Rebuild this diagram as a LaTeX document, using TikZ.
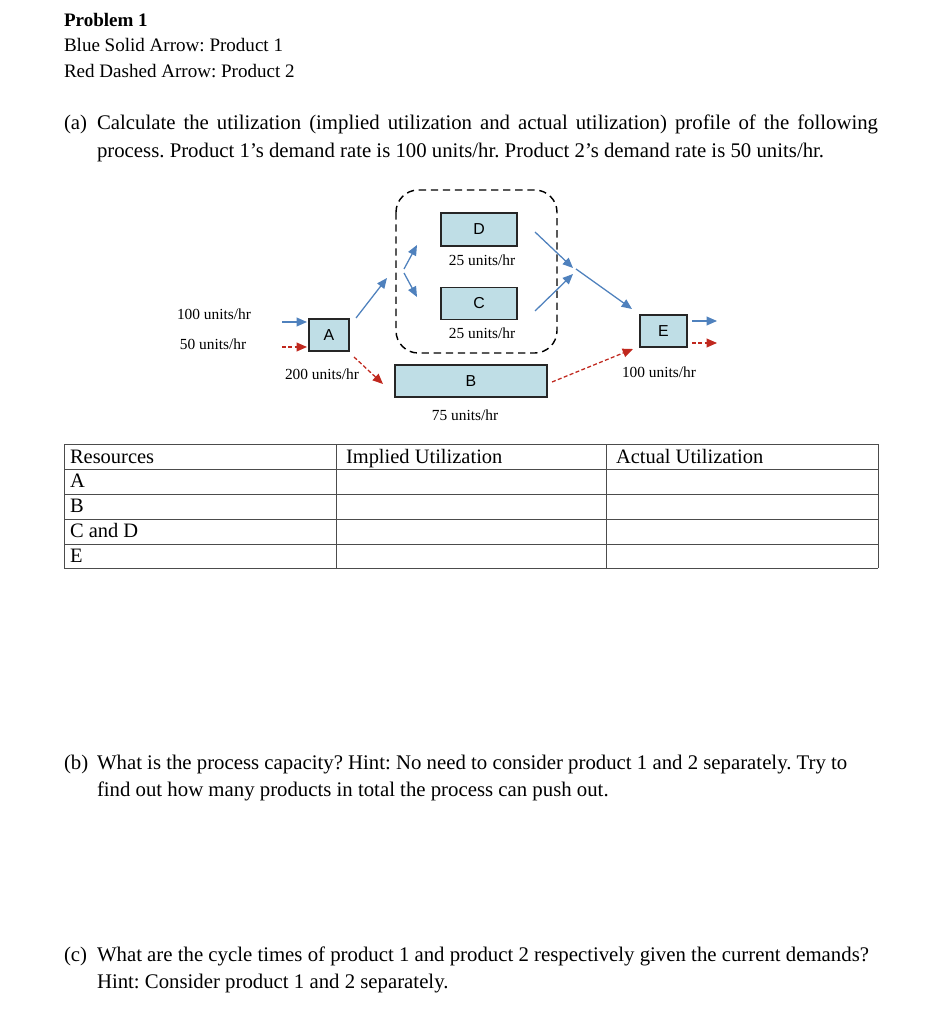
\documentclass[tikz,border=0pt]{standalone}
\usepackage{fontspec}
\setmainfont{Liberation Serif}
\setsansfont{Liberation Sans}
\usetikzlibrary{positioning,arrows.meta}

\definecolor{boxfill}{RGB}{191,222,230}
\definecolor{prodblue}{RGB}{79,129,189}
\definecolor{prodred}{RGB}{192,40,30}
\newcommand{\pxu}{0.63pt}
\frenchspacing

\begin{document}
\begin{tikzpicture}[
    x=0.63pt, y=-0.63pt,
    every node/.style={inner sep=0pt, outer sep=0pt},
    head/.style={anchor=base west, font=\fontsize{12}{14}\selectfont},
    body/.style={anchor=base west, font=\fontsize{13.1}{15}\selectfont},
    cell/.style={anchor=base west, font=\fontsize{12.9}{15}\selectfont},
    rate/.style={font=\fontsize{9.7}{11}\selectfont},
    station/.style={
        rectangle,
        draw=black!85,
        line width=1.1pt,
        fill=boxfill,
        minimum height=32*\pxu,
        font=\sffamily\fontsize{10}{12}\selectfont
    },
    prodone/.style={draw=prodblue, line width=0.8pt, -{Triangle[length=6.5pt,width=5.5pt]}},
    prodtwo/.style={draw=prodred, line width=0.8pt, dash pattern=on 2.5pt off 1.5pt, -{Triangle[length=6.5pt,width=5.5pt]}},
    group/.style={draw=black, line width=0.9pt, dash pattern=on 4.6pt off 3pt, rounded corners=14pt},
    tablerule/.style={draw=black!70, line width=0.6pt}
]
    \useasboundingbox (0,0) rectangle (936,1024);

    % --- HEADER ---
    \node [head, font=\bfseries\fontsize{12}{14}\selectfont] (title) at (64,27) {Problem 1};
    \node [head] (legendblue) at (64,52) {Blue Solid Arrow: Product 1};
    \node [head] (legendred) at (64,78) {Red Dashed Arrow: Product 2};

    % --- QUESTION (a) ---
    \node [body] (qa) at (64,130) {(a)};
    \node [body] (qaone) at (97,130) {\makebox[492pt][s]{Calculate the utilization (implied utilization and actual utilization) profile of the following}};
    \node [body] (qatwo) at (97,158) {process. Product 1’s demand rate is 100 units/hr. Product 2’s demand rate is 50 units/hr.};

    % --- STATIONS ---
    \draw [group] (396,190) rectangle (557,353);
    \node [station, minimum width=40*\pxu] (A) at (329,335) {A};
    \node [station, minimum width=76*\pxu, minimum height=33*\pxu] (D) at (479,229.5) {D};
    \node [station, minimum width=76*\pxu] (C) at (479,303.5) {C};
    \node [station, minimum width=152*\pxu] (B) at (471,381) {B};
    \node [station, minimum width=47*\pxu] (E) at (663.5,331) {E};

    % Rates
    \node [rate] (ratein1) at (214,314) {100 units/hr};
    \node [rate] (ratein2) at (213,344) {50 units/hr};
    \node [rate] (rateA) at (322,374) {200 units/hr};
    \node [rate] (rateD) at (482,260) {25 units/hr};
    \node [rate] (rateC) at (482,333) {25 units/hr};
    \node [rate] (rateB) at (465,415) {75 units/hr};
    \node [rate] (rateE) at (659,372) {100 units/hr};

    % --- ARROWS ---
    \coordinate (in1) at (282,322);
    \coordinate (in2) at (282,347);
    \coordinate (out1) at (717,321);
    \coordinate (out2) at (717,343);
    \coordinate (fork) at (404,271);
    \coordinate (merge) at (575,271);

    % Inputs -> A
    \draw [prodone, shorten >=2*\pxu] (in1) -- (in1 -| A.west);
    \draw [prodtwo, shorten >=2*\pxu] (in2) -- (in2 -| A.west);

    % Product 1 through C and D
    \draw [prodone] ([shift={(7,-1)}]A.north east) -- ([shift={(-17,7)}]fork);
    \draw [prodone] ([shift={(0,-2)}]fork) -- ([shift={(-24,15.5)}]D.west);
    \draw [prodone] ([shift={(0,2)}]fork) -- ([shift={(-24,-6.5)}]C.west);
    \draw [prodone] ([shift={(18,2.5)}]D.east) -- ([shift={(-2,-3)}]merge);
    \draw [prodone] ([shift={(18,7.5)}]C.east) -- ([shift={(-2,3)}]merge);
    \draw [prodone] ([shift={(1,-2)}]merge) -- ([shift={(-8,-6)}]E.north west);

    % Product 2 through B
    \draw [prodtwo] ([shift={(5,6)}]A.south east) -- ([shift={(-12,19)}]B.north west);
    \draw [prodtwo] ([shift={(5,1)}]B.east) -- ([shift={(-7,2)}]E.south west);

    % Outputs
    \draw [prodone, shorten <=5*\pxu] (E.east |- out1) -- (out1);
    \draw [prodtwo, shorten <=5*\pxu] (E.east |- out2) -- (out2);

    % --- TABLE ---
    \foreach \y in {444,469,494,519,544,568}
        \draw [tablerule] (64,\y) -- (878,\y);
    \foreach \x in {64,336,606,878}
        \draw [tablerule] (\x,444) -- (\x,568);

    \node [cell] (hres) at (70,463) {Resources};
    \node [cell] (himp) at (346,463) {Implied Utilization};
    \node [cell] (hact) at (616,463) {Actual Utilization};
    \node [cell] (rowA) at (70,487) {A};
    \node [cell] (rowB) at (70,512) {B};
    \node [cell] (rowCD) at (70,537) {C and D};
    \node [cell] (rowE) at (70,562) {E};

    % --- QUESTION (b) ---
    \node [body] (qb) at (64,769) {(b)};
    \node [body] (qbone) at (97,769) {What is the process capacity? Hint: No need to consider product 1 and 2 separately. Try to};
    \node [body] (qbtwo) at (97,796) {find out how many products in total the process can push out.};

    % --- QUESTION (c) ---
    \node [body] (qc) at (64,961) {(c)};
    \node [body] (qcone) at (97,961) {What are the cycle times of product 1 and product 2 respectively given the current demands?};
    \node [body] (qctwo) at (97,988) {Hint: Consider product 1 and 2 separately.};

\end{tikzpicture}
\end{document}
